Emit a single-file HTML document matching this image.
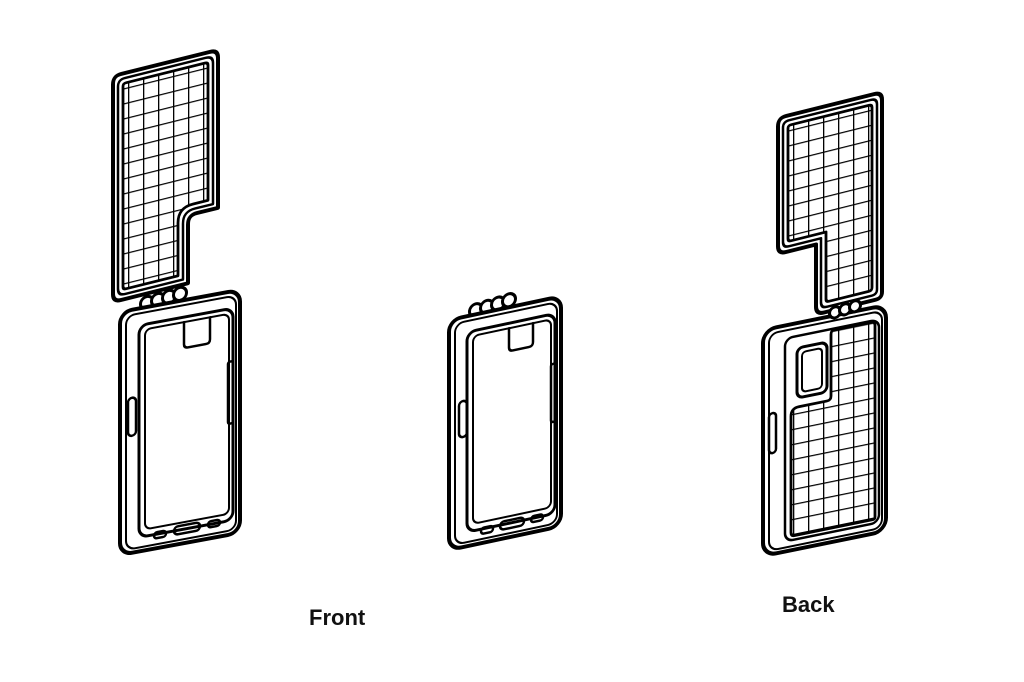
<!DOCTYPE html>
<html><head><meta charset="utf-8"><style>
html,body{margin:0;padding:0;background:#fff;}
svg{display:block}
text{font-family:"Liberation Sans",sans-serif;font-weight:bold;font-size:22px;fill:#111}
</style></head><body>
<svg width="1024" height="682" viewBox="0 0 1024 682" xmlns="http://www.w3.org/2000/svg">
<defs>
<pattern id="g" width="15" height="15" patternUnits="userSpaceOnUse">
<rect width="15" height="15" fill="#fff"/>
<path d="M0 0H15M0 0V15" stroke="#000" stroke-width="2.6" fill="none"/>
</pattern>
</defs>
<g fill="none" stroke="#000" stroke-linejoin="round" stroke-linecap="round">

<!-- LEFT lid -->
<g transform="translate(113,76) skewY(-14)">
<path d="M8,0 H97 Q105,0 105,8 V158 H84 Q75,158 75,167 V226 H8 Q0,226 0,218 V8 Q0,0 8,0 Z" stroke-width="4" fill="#fff"/>
<path d="M12,5 H93 Q100,5 100,12 V153 H82 Q70,153 70,165 V221 H12 Q5,221 5,214 V12 Q5,5 12,5 Z" stroke-width="2.5"/>
<path d="M13,10 H92 Q95,10 95,13 V148 H80 Q65,148 65,163 V216 H13 Q10,216 10,213 V13 Q10,10 13,10 Z" stroke-width="2.8" fill="url(#g)"/>
</g>
<!-- LEFT hinge -->
<g transform="translate(120,312) skewY(-10.5)" stroke-width="3" fill="#fff">
<circle cx="27" cy="-4" r="6.5"/><circle cx="38" cy="-5" r="6.5"/><circle cx="49" cy="-6" r="6.5"/><circle cx="60" cy="-7" r="6.5"/>
</g>
<!-- LEFT body -->
<g transform="translate(120,312) skewY(-10.5)">
<rect x="0" y="0" width="120" height="243" rx="12" stroke-width="4" fill="#fff"/>
<rect x="6" y="5" width="110" height="234" rx="9" stroke-width="2"/>
<rect x="19" y="17" width="94" height="212" rx="9" stroke-width="3"/>
<rect x="25" y="22" width="84" height="200" rx="6" stroke-width="2"/>
<path d="M64,22 V44 Q64,48 68,48 H86 Q90,48 90,44 V22" stroke-width="2.5"/>
<rect x="8" y="88" width="8" height="38" rx="4" stroke-width="2.5"/>
<rect x="108" y="70" width="5" height="62" rx="2" stroke-width="2.5"/>
<rect x="34" y="227" width="12" height="6" rx="3" stroke-width="2.5"/>
<rect x="54" y="225" width="26" height="8" rx="4" stroke-width="2.5"/>
<rect x="88" y="226" width="12" height="6" rx="3" stroke-width="2.5"/>
</g>

<!-- MIDDLE hinge -->
<g transform="translate(449,320) skewY(-12)" stroke-width="3" fill="#fff">
<circle cx="27" cy="-4" r="6.5"/><circle cx="38" cy="-5" r="6.5"/><circle cx="49" cy="-6" r="6.5"/><circle cx="60" cy="-7" r="6.5"/>
</g>
<!-- MIDDLE body -->
<g transform="translate(449,320) skewY(-12)">
<rect x="0" y="0" width="112" height="230" rx="12" stroke-width="4" fill="#fff"/>
<rect x="6" y="5" width="102" height="221" rx="9" stroke-width="2"/>
<rect x="18" y="16" width="88" height="200" rx="9" stroke-width="3"/>
<rect x="24" y="21" width="78" height="188" rx="6" stroke-width="2"/>
<path d="M60,21 V40 Q60,44 64,44 H80 Q84,44 84,40 V21" stroke-width="2.5"/>
<rect x="10" y="84" width="8" height="36" rx="4" stroke-width="2.5"/>
<rect x="102" y="66" width="5" height="58" rx="2" stroke-width="2.5"/>
<rect x="32" y="215" width="12" height="6" rx="3" stroke-width="2.5"/>
<rect x="51" y="213" width="24" height="8" rx="4" stroke-width="2.5"/>
<rect x="82" y="214" width="12" height="6" rx="3" stroke-width="2.5"/>
</g>

<!-- RIGHT lid -->
<g transform="translate(778,118) skewY(-14)">
<path d="M8,0 H96 Q104,0 104,8 V200 Q104,206 98,206 H46 Q38,206 38,198 V136 H8 Q0,136 0,128 V8 Q0,0 8,0 Z" stroke-width="4" fill="#fff"/>
<path d="M11,5 H93 Q99,5 99,11 V196 Q99,201 94,201 H49 Q43,201 43,195 V131 H11 Q5,131 5,125 V11 Q5,5 11,5 Z" stroke-width="2.5"/>
<path d="M13,10 H91 Q94,10 94,13 V193 Q94,196 91,196 H51 Q48,196 48,193 V126 H13 Q10,126 10,123 V13 Q10,10 13,10 Z" stroke-width="2.8" fill="url(#g)"/>
</g>
<!-- RIGHT body -->
<g transform="translate(763,330) skewY(-11.5)">
<rect x="0" y="0" width="123" height="226" rx="13" stroke-width="4" fill="#fff"/>
<rect x="6" y="5" width="113" height="217" rx="9" stroke-width="2"/>
<rect x="22" y="13" width="94" height="203" rx="8" stroke-width="2.5"/>
<rect x="34" y="25" width="30" height="50" rx="6" stroke-width="3"/>
<rect x="39" y="30" width="20" height="40" rx="4" stroke-width="2"/>
<path d="M72,14 H108 Q112,14 112,18 V210 Q112,212 110,212 H32 Q28,212 28,208 V92 Q28,84 36,84 H64 Q68,84 68,80 V18 Q68,14 72,14 Z" stroke-width="2.8" fill="url(#g)"/>
<rect x="6" y="85" width="7" height="40" rx="3.5" stroke-width="2.5"/>
</g>
<g transform="translate(763,330) skewY(-11.5)" stroke-width="3" fill="#fff">
<circle cx="72" cy="-3" r="5.5"/><circle cx="82" cy="-4" r="5.5"/><circle cx="92" cy="-5" r="5.5"/>
</g>
</g>
<text x="309" y="625">Front</text>
<text x="782" y="612">Back</text>
</svg>
</body></html>
